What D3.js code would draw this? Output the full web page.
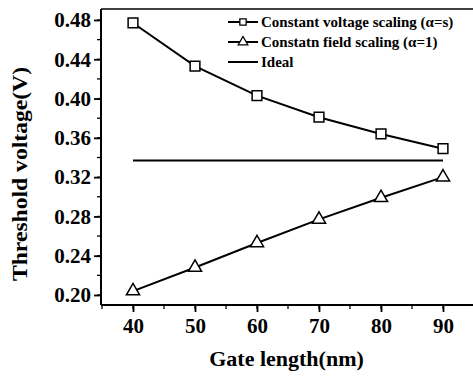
<!DOCTYPE html>
<html><head><meta charset="utf-8">
<script src="https://cdn.jsdelivr.net/npm/d3@7"></script>
<style>
html,body{margin:0;padding:0;background:#fff;}
svg{display:block;font-family:"Liberation Serif","Times New Roman",serif;font-weight:bold;}
</style></head>
<body>
<script>
const gateLength = [40, 50, 60, 70, 80, 90];
const constantVoltage = [0.477, 0.433, 0.403, 0.381, 0.364, 0.349];
const constantField = [0.204, 0.228, 0.253, 0.277, 0.299, 0.320];
const idealValue = 0.337;
const xTicks = [40, 50, 60, 70, 80, 90];
const yTicks = [0.20, 0.24, 0.28, 0.32, 0.36, 0.40, 0.44, 0.48];
const legendLabels = ["Constant voltage scaling (\u03b1=s)", "Constatn field scaling (\u03b1=1)", "Ideal"];

(function () {
const W = 473, H = 378;
const svg = d3.select("body").append("svg").attr("width", W).attr("height", H);

const x = d3.scaleLinear().domain([40, 90]).range([133, 443]);
const y = d3.scaleLinear().domain([0.20, 0.48]).range([295, 20]);
const fLeft = 101, fTop = 9, fBottom = 305, fRight = 480;

svg.append("line").attr("x1", fLeft).attr("x2", fRight).attr("y1", fTop).attr("y2", fTop)
  .attr("stroke", "#000").attr("stroke-width", 1.5);

const yMinor = d3.range(0.20, 0.4801, 0.02);
const xMinor = d3.range(35, 96, 5);
svg.append("g").selectAll("line").data(yMinor).join("line")
  .attr("x1", fLeft - 4).attr("x2", fLeft).attr("y1", d => y(d)).attr("y2", d => y(d))
  .attr("stroke", "#000").attr("stroke-width", 1.3);
svg.append("g").selectAll("line").data(xMinor).join("line")
  .attr("x1", d => x(d)).attr("x2", d => x(d)).attr("y1", fBottom).attr("y2", fBottom + 4)
  .attr("stroke", "#000").attr("stroke-width", 1.3);

const yAxis = d3.axisLeft(y).tickValues(yTicks).tickFormat(d3.format(".2f")).tickSize(7).tickPadding(3);
const gy = svg.append("g").attr("transform", `translate(${fLeft},0)`).call(yAxis);
gy.select(".domain").remove();
gy.selectAll(".tick line").attr("stroke-width", 1.8);
gy.selectAll("text").attr("font-size", 21).attr("font-family", "Liberation Serif, Times New Roman, serif").attr("font-weight", "bold").attr("fill", "#000");
svg.append("line").attr("x1", fLeft).attr("x2", fLeft).attr("y1", fTop).attr("y2", fBottom)
  .attr("stroke", "#000").attr("stroke-width", 2);

const xAxis = d3.axisBottom(x).tickValues(xTicks).tickFormat(d3.format("d")).tickSize(7).tickPadding(6);
const gx = svg.append("g").attr("transform", `translate(0,${fBottom})`).call(xAxis);
gx.select(".domain").remove();
gx.selectAll(".tick line").attr("stroke-width", 1.8);
gx.selectAll("text").attr("font-size", 21).attr("font-family", "Liberation Serif, Times New Roman, serif").attr("font-weight", "bold").attr("fill", "#000");
svg.append("line").attr("x1", fLeft).attr("x2", fRight).attr("y1", fBottom).attr("y2", fBottom)
  .attr("stroke", "#000").attr("stroke-width", 2);

svg.append("text").attr("transform", "translate(27,174) rotate(-90)")
  .attr("text-anchor", "middle").attr("font-size", 22)
  .attr("textLength", 214).attr("lengthAdjust", "spacingAndGlyphs")
  .text("Threshold voltage(V)");
svg.append("text").attr("x", 286.5).attr("y", 366)
  .attr("text-anchor", "middle").attr("font-size", 22)
  .text("Gate length(nm)");

svg.append("line").attr("x1", x(40)).attr("x2", x(90)).attr("y1", y(idealValue)).attr("y2", y(idealValue))
  .attr("stroke", "#000").attr("stroke-width", 2);

const line = d3.line().x((d, i) => x(gateLength[i])).y(d => y(d));
svg.append("path").datum(constantVoltage).attr("d", line).attr("fill", "none").attr("stroke", "#000").attr("stroke-width", 2);
svg.append("path").datum(constantField).attr("d", line).attr("fill", "none").attr("stroke", "#000").attr("stroke-width", 2);

const sq = d3.symbol().type(d3.symbolSquare).size(95);
const tri = d3.symbol().type(d3.symbolTriangle).size(75);
svg.append("g").selectAll("path").data(constantVoltage).join("path")
  .attr("d", sq).attr("transform", (d, i) => `translate(${x(gateLength[i])},${y(d)})`)
  .attr("fill", "#fff").attr("stroke", "#000").attr("stroke-width", 1.5);
svg.append("g").selectAll("path").data(constantField).join("path")
  .attr("d", tri).attr("transform", (d, i) => `translate(${x(gateLength[i])},${y(d)})`)
  .attr("fill", "#fff").attr("stroke", "#000").attr("stroke-width", 1.5);

const legY = [22, 42, 62];
const legSym = [d3.symbol().type(d3.symbolSquare).size(40), d3.symbol().type(d3.symbolTriangle).size(40), null];
legendLabels.forEach((lab, i) => {
  const g = svg.append("g").attr("transform", `translate(0,${legY[i]})`);
  g.append("line").attr("x1", 228).attr("x2", 258).attr("y1", 0).attr("y2", 0).attr("stroke", "#000").attr("stroke-width", 2);
  if (legSym[i]) g.append("path").attr("d", legSym[i]).attr("transform", "translate(243,0)")
    .attr("fill", "#fff").attr("stroke", "#000").attr("stroke-width", 1.3);
  g.append("text").attr("x", 261).attr("y", 5).attr("font-size", 15).text(lab);
});
})();
</script>
</body></html>
